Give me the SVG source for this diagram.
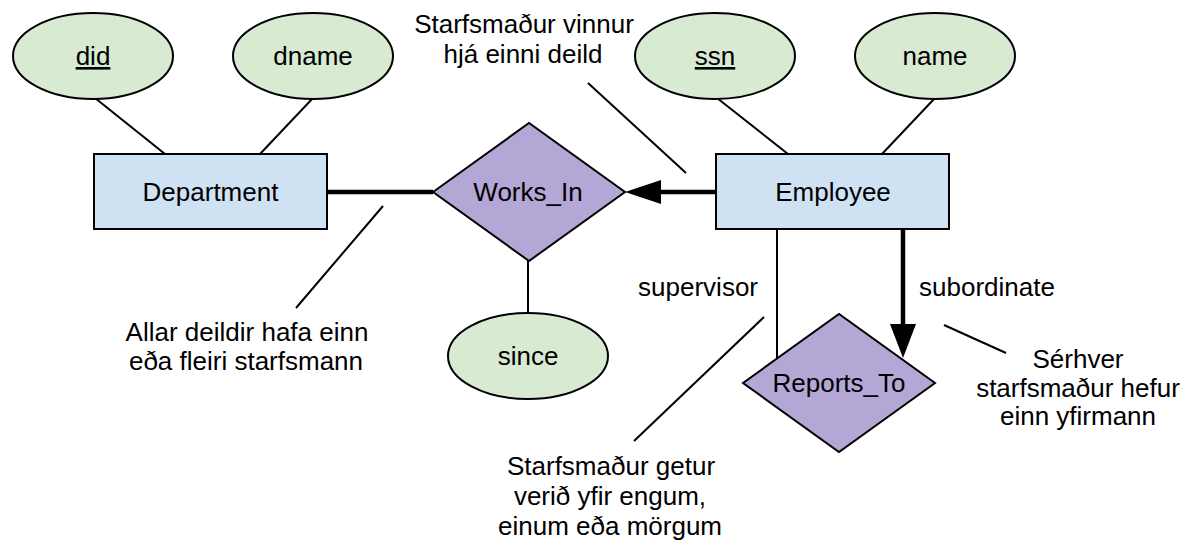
<svg xmlns="http://www.w3.org/2000/svg" width="1186" height="545" viewBox="0 0 1186 545">
<style>
text{font-family:"Liberation Sans",Arial,sans-serif;font-size:26px;fill:#000;text-anchor:middle}
.attr{fill:#d9ead3;stroke:#000;stroke-width:2}
.ent{fill:#cfe2f3;stroke:#000;stroke-width:2}
.rel{fill:#b4a7d6;stroke:#000;stroke-width:2}
.ln{stroke:#000;stroke-width:2;fill:none}
.thick{stroke:#000;stroke-width:4.5;fill:none}
.u{text-decoration:underline}
</style>
<rect width="1186" height="545" fill="#fff"/>
<g id="connectors">
<line class="ln" x1="95" y1="98" x2="165" y2="154"/>
<line class="ln" x1="313" y1="98" x2="260" y2="154"/>
<line class="ln" x1="717" y1="98" x2="788" y2="154"/>
<line class="ln" x1="935" y1="98" x2="882" y2="154"/>
<line class="thick" x1="328" y1="192" x2="433" y2="192"/>
<line class="thick" x1="716" y1="192" x2="655" y2="192"/>
<polygon points="625,192 661,180 661,204" fill="#000"/>
<line class="ln" x1="528" y1="261" x2="528" y2="313"/>
<line class="ln" x1="777" y1="229" x2="777" y2="359"/>
<line class="thick" x1="903" y1="229" x2="903" y2="330"/>
<polygon points="903,358 890,324 916,324" fill="#000"/>
<text x="758" y="296" style="text-anchor:end">supervisor</text>
<text x="919" y="296" style="text-anchor:start">subordinate</text>
</g>
<g id="did"><ellipse class="attr" cx="93" cy="56" rx="80" ry="43"/><text class="u" x="93" y="65">did</text></g>
<g id="dname"><ellipse class="attr" cx="313" cy="56" rx="80" ry="43"/><text x="313" y="65">dname</text></g>
<g id="ssn"><ellipse class="attr" cx="715" cy="56" rx="80" ry="43"/><text class="u" x="715" y="65">ssn</text></g>
<g id="name"><ellipse class="attr" cx="935" cy="56" rx="80" ry="43"/><text x="935" y="65">name</text></g>
<g id="department"><rect class="ent" x="94" y="154" width="233" height="75"/><text x="210.5" y="201">Department</text></g>
<g id="employee"><rect class="ent" x="716" y="154" width="233" height="75"/><text x="833" y="201">Employee</text></g>
<g id="works_in"><polygon class="rel" points="433,192 529,123 625,192 529,261"/><text x="528" y="201">Works_In</text></g>
<g id="since"><ellipse class="attr" cx="528" cy="356" rx="80" ry="43"/><text x="528" y="365">since</text></g>
<g id="reports_to"><polygon class="rel" points="743,383 839,314 935,383 839,452"/><text x="839" y="392">Reports_To</text></g>
<g id="note1">
<line class="ln" x1="588" y1="83" x2="686" y2="173"/>
<text x="524" y="33">Starfsmaður vinnur</text>
<text x="523" y="63">hjá einni deild</text>
</g>
<g id="note2">
<line class="ln" x1="383" y1="206" x2="296" y2="308"/>
<text x="247" y="341">Allar deildir hafa einn</text>
<text x="246" y="370">eða fleiri starfsmann</text>
</g>
<g id="note3">
<line class="ln" x1="764" y1="317" x2="634" y2="441"/>
<text x="611" y="475">Starfsmaður getur</text>
<text x="610" y="505">verið yfir engum,</text>
<text x="610" y="535">einum eða mörgum</text>
</g>
<g id="note4">
<line class="ln" x1="944" y1="325" x2="1006" y2="353"/>
<text x="1078" y="368">Sérhver</text>
<text x="1078" y="397">starfsmaður hefur</text>
<text x="1078" y="425">einn yfirmann</text>
</g>
</svg>
